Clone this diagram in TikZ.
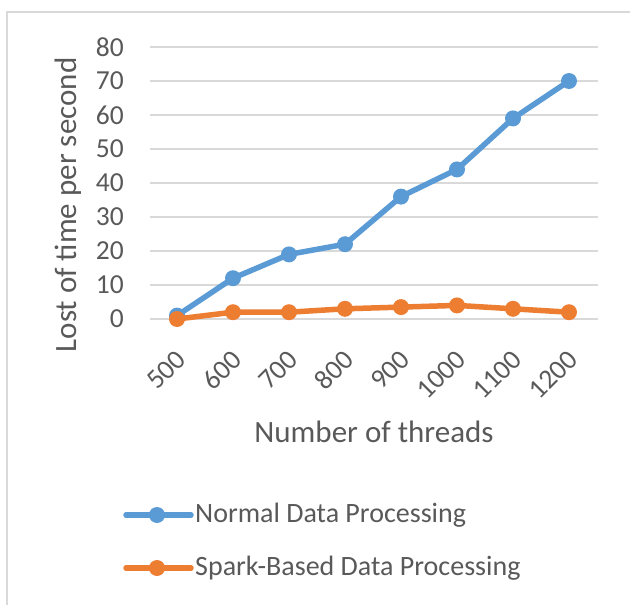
\documentclass[tikz,border=0pt]{standalone}
\usepackage{fontspec}
\setmainfont{Carlito}
\definecolor{serA}{HTML}{5B9BD5}
\definecolor{serB}{HTML}{ED7D31}
\definecolor{gridc}{HTML}{D9D9D9}
\definecolor{txt}{HTML}{595959}
\tikzset{
  frameline/.style={draw=gridc, line width=1.6pt},
  gridline/.style={draw=gridc, line width=1.5pt},
  ticklab/.style={text=txt, font=\fontsize{27.5}{32}\selectfont, inner sep=0pt},
  xticklab/.style={ticklab, rotate=45, anchor=east},
  axtitle/.style={text=txt, font=\fontsize{31}{36}\selectfont, inner sep=0pt},
  legtext/.style={text=txt, font=\fontsize{28}{32}\selectfont, inner sep=0pt, anchor=west},
  seriesA/.style={draw=serA, line width=5.5pt, line join=round, line cap=round},
  seriesB/.style={draw=serB, line width=5.5pt, line join=round, line cap=round},
  markA/.style={circle, fill=serA, minimum size=16pt, inner sep=0pt},
  markB/.style={circle, fill=serB, minimum size=16pt, inner sep=0pt},
}
\begin{document}
\begin{tikzpicture}[x=1pt, y=-1pt]
\useasboundingbox (0,0) rectangle (630,605);
% chart frame
\draw[frameline] (7,605) -- (7,12) -- (630,12);
% horizontal gridlines and value labels
\foreach \v in {0,...,8} {
  \draw[gridline] (150,{319-34*\v}) -- (598,{319-34*\v});
}
\node[ticklab, anchor=east] (y0) at (124,319) {0};
\foreach \v in {1,...,8} {
  \node[ticklab, anchor=east] (y\v) at (124,{319-34*\v}) {\v0};
}
% category labels
\foreach \i/\t in {0/500,1/600,2/700,3/800,4/900,5/1000,6/1100,7/1200} {
  \node[xticklab] (x\i) at ({181+56*\i},355) {\t};
}
% axis titles
\node[axtitle, rotate=90] (ytitle) at (68,205) {Lost of time per second};
\node[axtitle] (xtitle) at (374,432) {Number of threads};
% series: normal data processing
\foreach \i/\v in {0/1,1/12,2/19,3/22,4/36,5/44,6/59,7/70} {
  \node[markA] (a\i) at ({177+56*\i},{319-3.4*\v}) {};
}
\draw[seriesA] (a0.center) -- (a1.center) -- (a2.center) -- (a3.center) -- (a4.center) -- (a5.center) -- (a6.center) -- (a7.center);
% series: spark-based data processing
\foreach \i/\v in {0/0,1/2,2/2,3/3,4/3.5,5/4,6/3,7/2} {
  \node[markB] (b\i) at ({177+56*\i},{319-3.4*\v}) {};
}
\draw[seriesB] (b0.center) -- (b1.center) -- (b2.center) -- (b3.center) -- (b4.center) -- (b5.center) -- (b6.center) -- (b7.center);
% legend
\coordinate (la1) at (126,515);
\coordinate (la2) at (191,515);
\draw[seriesA] (la1) -- (la2);
\node[markA] (lam) at (157,515) {};
\node[legtext] (lat) at (195,515) {Normal Data Processing};
\coordinate (lb1) at (126,568);
\coordinate (lb2) at (191,568);
\draw[seriesB] (lb1) -- (lb2);
\node[markB] (lbm) at (157,568) {};
\node[legtext] (lbt) at (195,568) {Spark-Based Data Processing};
\end{tikzpicture}
\end{document}
